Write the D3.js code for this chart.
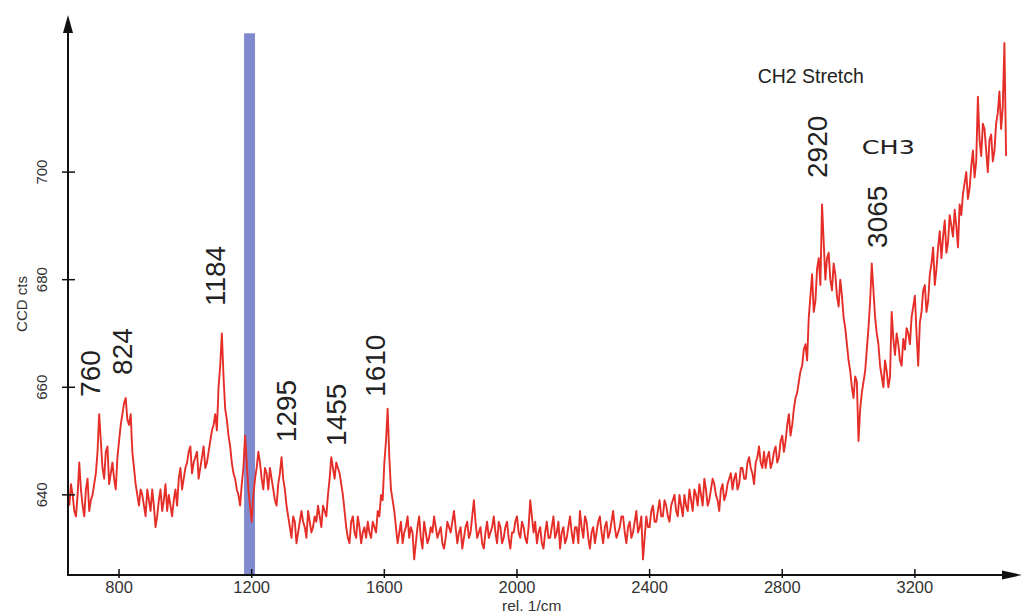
<!DOCTYPE html>
<html><head><meta charset="utf-8">
<script src="https://cdn.jsdelivr.net/npm/d3@7"></script>
<style>body{margin:0;background:#fff}svg{display:block}</style>
</head><body>
<svg id="chart" width="1030" height="614"></svg>
<script>
// ---- data ----
const wnStart = 650, wnStep = 5;   // rel. 1/cm grid of the spectrum
const counts = [
 638,642,640,637,636,640,646,641,638,636,641,643,637,639,640,642,644,648,655,650,
 645,643,648,649,642,644,646,643,641,647,650,653,655,657,658,654,653,655,648,645,
 642,640,638,641,640,638,636,641,639,637,641,638,634,636,639,641,637,639,642,637,
 640,638,636,639,641,638,643,645,641,643,645,646,648,649,644,646,647,648,643,645,
 647,649,645,646,648,650,652,653,655,652,660,664,670,662,656,654,651,649,646,644,
 643,641,640,638,642,645,651,646,641,638,635,640,643,645,648,646,643,641,645,644,
 641,645,643,641,639,638,642,644,647,643,641,638,636,634,632,636,635,631,633,635,
 637,635,634,632,637,635,633,634,636,635,638,636,634,638,637,636,640,643,647,645,
 643,646,645,644,642,640,637,634,632,631,635,636,633,632,636,634,631,633,634,632,
 635,633,632,635,634,633,637,636,640,639,646,650,656,647,641,639,637,634,631,633,
 635,631,633,634,636,632,634,633,628,631,634,636,632,630,635,633,631,632,634,633,
 636,634,632,633,634,631,630,632,635,634,633,635,637,634,631,633,634,630,632,634,
 635,632,633,636,639,635,632,633,634,631,630,633,635,632,633,634,636,633,631,635,
 634,631,632,634,635,632,630,633,633,635,636,633,632,635,634,632,631,634,639,636,
 633,635,631,633,634,631,630,633,635,632,632,634,636,632,633,635,630,633,634,631,
 632,634,636,633,631,634,634,631,637,634,632,636,635,632,630,633,634,631,633,635,
 636,633,631,634,635,632,633,635,637,634,632,633,634,636,636,633,631,634,635,632,
 633,635,637,633,634,636,628,632,636,634,634,637,638,635,635,637,639,636,636,639,
 638,636,635,638,639,640,637,636,640,638,636,640,638,637,641,639,637,641,640,638,
 642,640,638,643,641,638,639,641,643,642,640,639,637,641,642,639,640,642,643,644,
 641,643,644,641,642,645,645,643,643,646,647,645,644,642,646,647,649,646,645,648,
 645,647,648,645,646,648,649,646,647,650,651,648,650,653,655,651,653,656,658,659,
 661,663,664,667,668,665,673,677,681,674,676,682,684,679,694,687,680,684,685,680,
 678,683,681,677,675,680,677,673,671,668,665,663,660,658,662,661,650,656,659,661,
 663,667,671,676,683,678,673,670,668,664,662,660,665,663,660,662,674,669,666,670,
 668,665,664,669,667,671,670,668,673,675,677,670,664,672,674,678,679,674,676,681,
 683,686,679,682,686,689,684,688,691,685,687,692,690,688,693,690,686,694,692,696,
 698,700,695,697,701,704,699,702,714,706,703,709,708,704,700,706,707,702,704,709,
 711,715,708,712,724,703
];
const xTicks = [800, 1200, 1600, 2000, 2400, 2800, 3200];
const yTicks = [640, 660, 680, 700];
const bandRange = [1177, 1210];      // highlighted band (rel. 1/cm)
const bandTop = 725.8;
const peakLabels = ["760", "824", "1184", "1295", "1455", "1610", "2920", "3065"];
const peakWn     = [741, 839, 1119, 1333, 1484, 1602, 2934, 3115];
const peakCts    = [658.2, 662.3, 675.1, 649.8, 649.1, 658.2, 698.9, 685.9];
const notes      = ["CH3", "CH2 Stretch"];
const noteWn     = [3040, 2726];
const noteCts    = [703.3, 716.5];

// ---- chart ----
const svg = d3.select("#chart");
const x = d3.scaleLinear().domain([646, 3517]).range([68, 1020]);
const y = d3.scaleLinear().domain([625.1, 729.2]).range([575, 15]);
const data = counts.map((c, i) => ({wn: wnStart + i * wnStep, c}));

// band
svg.append("rect")
  .attr("x", x(bandRange[0])).attr("width", x(bandRange[1]) - x(bandRange[0]))
  .attr("y", y(bandTop)).attr("height", y(625.1) - y(bandTop))
  .attr("fill", "#8189cf");

// spectrum
svg.append("path").datum(data)
  .attr("fill", "none").attr("stroke", "#e62e29").attr("stroke-width", 1.9)
  .attr("stroke-linejoin", "round")
  .attr("d", d3.line().x(d => x(d.wn)).y(d => y(d.c)));

// axes
const axisCol = "#111";
svg.append("line").attr("x1", x(646)).attr("x2", 1004).attr("y1", 575).attr("y2", 575)
  .attr("stroke", axisCol).attr("stroke-width", 2);
svg.append("line").attr("x1", 68).attr("x2", 68).attr("y1", 576).attr("y2", 30)
  .attr("stroke", axisCol).attr("stroke-width", 2);
svg.append("path").attr("d", "M68,15 L63,33 L73,33 Z").attr("fill", axisCol);
svg.append("path").attr("d", "M1022,575 L1002,570.5 L1002,579.5 Z").attr("fill", axisCol);

// x ticks
const xg = svg.append("g");
xg.selectAll("line").data(xTicks).join("line")
  .attr("x1", d => x(d)).attr("x2", d => x(d)).attr("y1", 569).attr("y2", 578)
  .attr("stroke", axisCol).attr("stroke-width", 1.5);
xg.selectAll("text").data(xTicks).join("text")
  .attr("x", d => x(d)).attr("y", 593).attr("text-anchor", "middle")
  .attr("font-family", "Liberation Sans, Arial, sans-serif").attr("font-size", 16.5)
  .attr("fill", "#333").text(d => d);

// y ticks
const yg = svg.append("g");
yg.selectAll("line").data(yTicks).join("line")
  .attr("x1", 62).attr("x2", 75).attr("y1", d => y(d)).attr("y2", d => y(d))
  .attr("stroke", axisCol).attr("stroke-width", 1.5);
yg.selectAll("text").data(yTicks).join("text")
  .attr("transform", d => `translate(47,${y(d)}) rotate(-90)`)
  .attr("text-anchor", "middle")
  .attr("font-family", "Liberation Sans, Arial, sans-serif").attr("font-size", 15)
  .attr("fill", "#333").text(d => d);

// axis titles
svg.append("text").attr("transform", "translate(27,304) rotate(-90)")
  .attr("text-anchor", "middle").attr("font-family", "Liberation Sans, Arial, sans-serif")
  .attr("font-size", 15).attr("fill", "#333").text("CCD cts");
svg.append("text").attr("x", 502).attr("y", 611)
  .attr("font-family", "Liberation Sans, Arial, sans-serif")
  .attr("font-size", 15.5).attr("fill", "#333").text("rel. 1/cm");

// peak labels
svg.append("g").selectAll("text").data(peakLabels).join("text")
  .attr("transform", (d, i) => `translate(${x(peakWn[i])},${y(peakCts[i])}) rotate(-90)`)
  .attr("font-family", "Liberation Sans, Arial, sans-serif").attr("font-size", 28)
  .attr("fill", "#222").text(d => d);

// notes
svg.append("text").attr("x", x(noteWn[0])).attr("y", y(noteCts[0]))
  .attr("font-family", "DejaVu Sans, sans-serif").attr("font-size", 19)
  .attr("textLength", 53).attr("lengthAdjust", "spacingAndGlyphs")
  .attr("fill", "#222").text(notes[0]);
svg.append("text").attr("x", x(noteWn[1])).attr("y", y(noteCts[1]))
  .attr("font-family", "Liberation Sans, Arial, sans-serif").attr("font-size", 21)
  .attr("textLength", 106).attr("lengthAdjust", "spacingAndGlyphs")
  .attr("fill", "#222").text(notes[1]);
</script>
</body></html>
